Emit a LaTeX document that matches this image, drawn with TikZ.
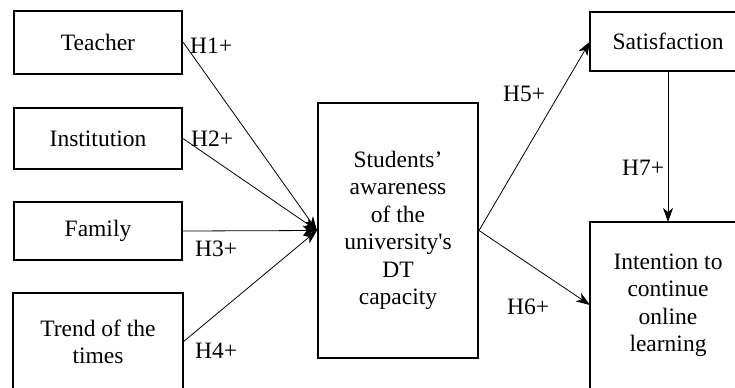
\documentclass[tikz,border=0pt]{standalone}
\usepackage{fontspec}
\setmainfont{Liberation Serif}
\usetikzlibrary{arrows.meta}

\begin{document}
\begin{tikzpicture}[x=1bp,y=-1bp,
  box/.style={draw,line width=2bp,align=center,inner sep=2pt,
    font=\fontsize{23.5bp}{27.5bp}\selectfont},
  cutbox/.style={box,draw=none},
  frame/.style={line width=2bp},
  hyp/.style={anchor=base west,inner sep=0pt,font=\fontsize{23.5bp}{27.5bp}\selectfont},
  link/.style={line width=0.8pt,-{Stealth[length=14bp,width=10bp,inset=4bp]}}]

  \useasboundingbox (0,0) rectangle (735,387);
  \clip (0,0) rectangle (735,387);

  % factors on the left
  \node[box,minimum width=168bp,minimum height=63bp] (teacher) at (98,42) {Teacher};
  \node[box,minimum width=168bp,minimum height=61bp] (institution) at (98,138.5) {Institution};
  \node[box,minimum width=168bp,minimum height=58bp] (family) at (98,231) {Family};
  \node[cutbox,minimum width=168bp,minimum height=96bp] (trend) at (98,342) {Trend of the\\times};
  \draw[frame] (trend.south west) |- (trend.north east) -- (trend.south east);

  % mediator
  \node[box,minimum width=160bp,minimum height=255bp] (awareness) at (398,230.5)
    {Students’\\awareness\\of the\\university\textquotesingle s\\DT\\capacity};

  % outcomes (cut off by the page edge)
  \node[cutbox,minimum width=154bp,minimum height=57bp] (satisfaction) at (668,41.5) {Satisfaction};
  \draw[frame] (satisfaction.north east) -| (satisfaction.south west) -- (satisfaction.south east);
  \node[cutbox,minimum width=154bp,minimum height=164bp] (intention) at (668,305)
    {Intention to\\continue\\online\\learning};
  \draw[frame] (intention.south west) |- (intention.north east);

  \draw[link] (teacher.east) -- (awareness.west);
  \draw[link] (institution.east) -- (awareness.west);
  \draw[link] (family.east) -- (awareness.west);
  \draw[link] (trend.east) -- (awareness.west);
  \draw[link] (awareness.east) -- (satisfaction.west);
  \draw[link] (awareness.east) -- (intention.west);
  \draw[link] (satisfaction.south) -- (intention.north);

  \node[hyp] (h1) at (190,53) {H1+};
  \node[hyp] (h2) at (191,146.7) {H2+};
  \node[hyp] (h3) at (195,256.7) {H3+};
  \node[hyp] (h4) at (195,358) {H4+};
  \node[hyp] (h5) at (503,101.7) {H5+};
  \node[hyp] (h6) at (507,314) {H6+};
  \node[hyp] (h7) at (622,175) {H7+};

\end{tikzpicture}
\end{document}
